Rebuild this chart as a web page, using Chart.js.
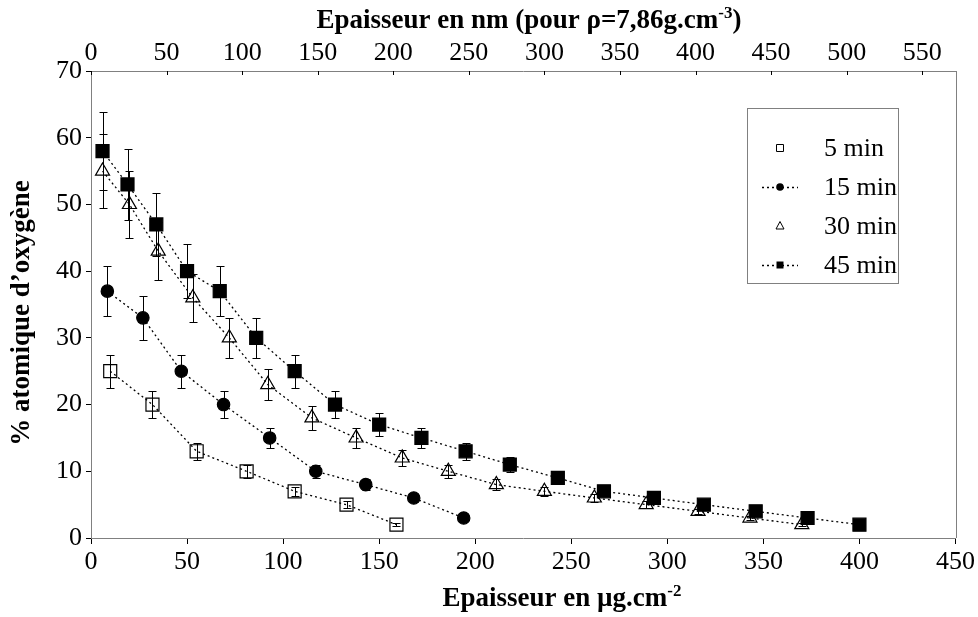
<!DOCTYPE html>
<html>
<head>
<meta charset="utf-8">
<script src="https://cdn.jsdelivr.net/npm/chart.js@4.4.1/dist/chart.umd.min.js"></script>
<style>
  html, body { margin: 0; padding: 0; background: #fff; }
  #wrap { width: 978px; height: 617px; }
</style>
</head>
<body>
<div id="wrap"><canvas id="graf" width="978" height="617"></canvas></div>
<script>
// ==================== DONNÉES ====================

const series = ['5 min', '15 min', '30 min', '45 min'];

// épaisseur en µg.cm-2
const x5  = [10, 32, 55, 81, 106, 133, 159];
const x15 = [8.5, 27, 47, 69, 93, 117, 143, 168, 194];
const x30 = [6, 20, 35, 53, 72, 92, 115, 138, 162, 186, 211, 236, 262, 289, 316, 343, 370];
const x45 = [6, 19, 34, 50, 67, 86, 106, 127, 150, 172, 195, 218, 243, 267, 293, 319, 346, 373, 400];

// % atomique d'oxygène
const y5  = [25, 20, 13, 10, 7, 5, 2];
const y15 = [37, 33, 25, 20, 15, 10, 8, 6, 3];
const y30 = [55, 50, 43, 36, 30, 23, 18, 15, 12, 10, 8, 7, 6, 5, 4, 3, 2];
const y45 = [58, 53, 47, 40, 37, 30, 25, 20, 17, 15, 13, 11, 9, 7, 6, 5, 4, 3, 2];

// barres d'erreur (+/-)
const e5  = [2.5, 2, 1.3, 1, 0.7, 0.5, 0.2];
const e15 = [3.7, 3.3, 2.5, 2, 1.5, 1, 0.8, 0.6, 0.3];
const e30 = [5.5, 5, 4.3, 3.6, 3, 2.3, 1.8, 1.5, 1.2, 1, 0.8, 0.7, 0.6, 0.5, 0.4, 0.3, 0.2];
const e45 = [5.8, 5.3, 4.7, 4, 3.7, 3, 2.5, 2, 1.7, 1.5, 1.3, 1.1, 0.9, 0.7, 0.6, 0.5, 0.4, 0.3, 0.2];

// graduations
const ticksBas = [0, 50, 100, 150, 200, 250, 300, 350, 400, 450];
const ticksHaut = [0, 50, 100, 150, 200, 250, 300, 350, 400, 450, 500, 550];
const ticksY = [0, 10, 20, 30, 40, 50, 60, 70];
const maxHautNm = 572; // 450 µg.cm-2 / 7,86 g.cm-3

const SERIF = "'Liberation Serif', 'Times New Roman', serif";
const GRIS = '#808080';

const donnees = [
    { x: x5,  y: y5,  err: e5,  style: 'rect',     plein: false, r: 9.2 },
    { x: x15, y: y15, err: e15, style: 'circle',   plein: true,  r: 6.2 },
    { x: x30, y: y30, err: e30, style: 'triangle', plein: false, r: 8.1 },
    { x: x45, y: y45, err: e45, style: 'rect',     plein: true,  r: 9.2 }
];

// ==================== PLUGINS ====================

const barresErreur = {
    id: 'barresErreur',
    beforeDatasetsDraw(chart) {
        const { ctx, scales: { x, y } } = chart;
        ctx.save();
        ctx.strokeStyle = '#000';
        ctx.lineWidth = 1;
        donnees.forEach(s => {
            s.x.forEach((xv, i) => {
                const px = Math.round(x.getPixelForValue(xv)) + 0.5;
                const haut = Math.round(y.getPixelForValue(s.y[i] + s.err[i])) + 0.5;
                const bas = Math.round(y.getPixelForValue(s.y[i] - s.err[i])) + 0.5;
                ctx.beginPath();
                ctx.moveTo(px, haut); ctx.lineTo(px, bas);
                ctx.moveTo(px - 4, haut); ctx.lineTo(px + 4, haut);
                ctx.moveTo(px - 4, bas); ctx.lineTo(px + 4, bas);
                ctx.stroke();
            });
        });
        ctx.restore();
    }
};

function petitMarqueur(ctx, style, plein, cx, cy) {
    ctx.beginPath();
    if (style === 'rect') {
        ctx.rect(cx - 3.5, cy - 3.5, 7, 7);
    } else if (style === 'circle') {
        ctx.arc(cx, cy, 3.8, 0, Math.PI * 2);
    } else {
        ctx.moveTo(cx, cy - 4.5);
        ctx.lineTo(cx + 4, cy + 3);
        ctx.lineTo(cx - 4, cy + 3);
        ctx.closePath();
    }
    if (plein) { ctx.fillStyle = '#000'; ctx.fill(); }
    else { ctx.lineWidth = 1; ctx.strokeStyle = '#000'; ctx.stroke(); }
}

function texteAvecExposant(ctx, base, expo, apres, cx, baseline, taille) {
    ctx.font = 'bold ' + taille + 'px ' + SERIF;
    const wBase = ctx.measureText(base).width;
    const wApres = ctx.measureText(apres).width;
    ctx.font = 'bold ' + Math.round(taille * 0.62) + 'px ' + SERIF;
    const wExpo = ctx.measureText(expo).width;
    let x = cx - (wBase + wExpo + wApres) / 2;
    ctx.textAlign = 'left';
    ctx.textBaseline = 'alphabetic';
    ctx.font = 'bold ' + taille + 'px ' + SERIF;
    ctx.fillText(base, x, baseline);
    x += wBase;
    ctx.font = 'bold ' + Math.round(taille * 0.62) + 'px ' + SERIF;
    ctx.fillText(expo, x, baseline - taille * 0.38);
    x += wExpo;
    ctx.font = 'bold ' + taille + 'px ' + SERIF;
    ctx.fillText(apres, x, baseline);
}

const habillage = {
    id: 'habillage',
    afterDraw(chart) {
        const { ctx, chartArea: a, scales } = chart;
        ctx.save();
        ctx.fillStyle = '#000';

        // bordure droite
        ctx.strokeStyle = GRIS;
        ctx.lineWidth = 1;
        ctx.beginPath();
        ctx.moveTo(Math.round(a.right) + 0.5, a.top);
        ctx.lineTo(Math.round(a.right) + 0.5, a.bottom);
        ctx.stroke();

        // graduations de l'axe du haut (vers l'intérieur)
        ctx.strokeStyle = '#000';
        ticksHaut.forEach(v => {
            const px = Math.round(scales.x2.getPixelForValue(v)) + 0.5;
            ctx.beginPath();
            ctx.moveTo(px, a.top);
            ctx.lineTo(px, a.top + 4);
            ctx.stroke();
        });

        // titres des axes
        texteAvecExposant(ctx, 'Epaisseur en nm (pour \u03c1=7,86g.cm', '-3', ')', 529, 28, 27);
        texteAvecExposant(ctx, 'Epaisseur en \u00b5g.cm', '-2', '', 562, 606, 27);

        ctx.save();
        ctx.translate(22, 313);
        ctx.rotate(-Math.PI / 2);
        ctx.font = 'bold 27px ' + SERIF;
        ctx.textAlign = 'center';
        ctx.textBaseline = 'middle';
        ctx.fillText('% atomique d\u2019oxyg\u00e8ne', 0, 0);
        ctx.restore();

        // légende
        const L = { gauche: 747, haut: 108, droite: 898, bas: 283 };
        ctx.fillStyle = '#fff';
        ctx.fillRect(L.gauche, L.haut, L.droite - L.gauche, L.bas - L.haut);
        ctx.strokeStyle = GRIS;
        ctx.lineWidth = 1;
        ctx.strokeRect(L.gauche + 0.5, L.haut + 0.5, L.droite - L.gauche, L.bas - L.haut);

        const lignesY = [148, 187, 226, 265];
        series.forEach((nom, i) => {
            const s = donnees[i];
            const cy = lignesY[i];
            if (i === 1 || i === 3) {
                ctx.save();
                ctx.strokeStyle = '#000';
                ctx.lineWidth = 1.3;
                ctx.setLineDash([2, 3]);
                ctx.beginPath();
                ctx.moveTo(762, cy + 0.5);
                ctx.lineTo(798, cy + 0.5);
                ctx.stroke();
                ctx.restore();
            }
            petitMarqueur(ctx, s.style, s.plein, 780, cy);
            ctx.fillStyle = '#000';
            ctx.font = '26px ' + SERIF;
            ctx.textAlign = 'left';
            ctx.textBaseline = 'middle';
            ctx.fillText(nom, 824, cy + 1);
        });

        ctx.restore();
    }
};

// ==================== GRAPHIQUE ====================

const datasets = donnees.map((s, i) => ({
    label: series[i],
    data: s.x.map((xv, j) => ({ x: xv, y: s.y[j] })),
    showLine: true,
    borderColor: '#000',
    borderWidth: 1.3,
    borderDash: [2, 3],
    pointStyle: s.style,
    pointRadius: s.r,
    pointHoverRadius: s.r,
    pointBorderColor: '#000',
    pointBorderWidth: 1.2,
    pointBackgroundColor: s.plein ? '#000' : 'rgba(0,0,0,0)',
    order: 4 - i
}));

const policeTicks = { family: SERIF, size: 26 };

new Chart(document.getElementById('graf'), {
    type: 'scatter',
    data: { datasets },
    options: {
        responsive: false,
        animation: false,
        events: [],
        layout: { padding: { left: 0, right: 21, top: 0, bottom: 0 } },
        plugins: {
            legend: { display: false },
            tooltip: { enabled: false }
        },
        scales: {
            x: {
                type: 'linear',
                position: 'bottom',
                min: 0,
                max: 450,
                afterBuildTicks: s => { s.ticks = ticksBas.map(v => ({ value: v })); },
                ticks: { color: '#000', font: policeTicks, padding: 3, maxRotation: 0, autoSkip: false },
                grid: { drawOnChartArea: false, tickLength: 6, color: '#000' },
                border: { color: GRIS, width: 1 },
                afterFit: s => { s.height = 79; }
            },
            x2: {
                type: 'linear',
                position: 'top',
                min: 0,
                max: maxHautNm,
                afterBuildTicks: s => { s.ticks = ticksHaut.map(v => ({ value: v })); },
                ticks: { color: '#000', font: policeTicks, padding: 2, maxRotation: 0, autoSkip: false },
                grid: { drawOnChartArea: false, drawTicks: false },
                border: { color: GRIS, width: 1 },
                afterFit: s => { s.height = 71; }
            },
            y: {
                type: 'linear',
                min: 0,
                max: 70,
                afterBuildTicks: s => { s.ticks = ticksY.map(v => ({ value: v })); },
                ticks: { color: '#000', font: policeTicks, padding: 4 },
                grid: { drawOnChartArea: false, tickLength: 5, color: '#000' },
                border: { color: GRIS, width: 1 },
                afterFit: s => { s.width = 91; }
            }
        }
    },
    plugins: [barresErreur, habillage]
});
</script>
</body>
</html>
